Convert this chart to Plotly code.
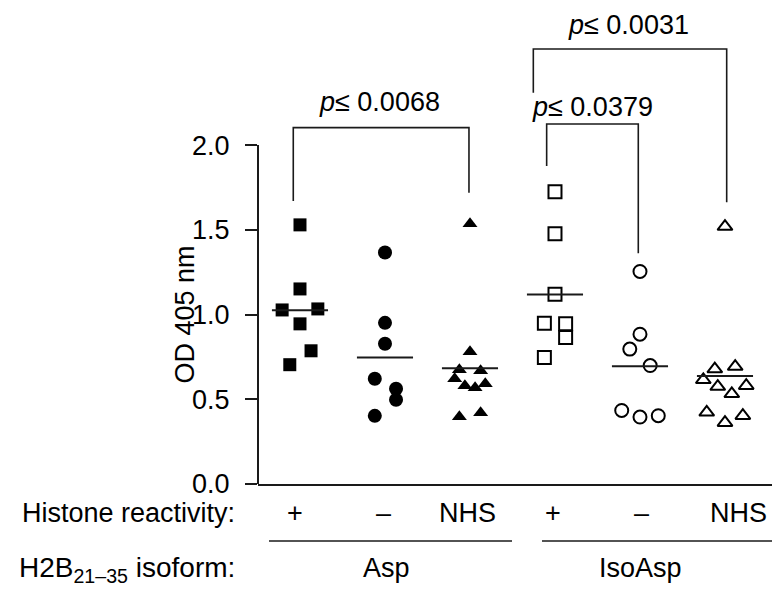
import plotly.graph_objects as go

# ---- data (OD 405 nm) ----
groups = ["Asp +", "Asp –", "Asp NHS", "IsoAsp +", "IsoAsp –", "IsoAsp NHS"]
reactivity_labels = ["+", "–", "NHS", "+", "–", "NHS"]
isoform_labels = ["Asp", "IsoAsp"]

asp_pos = [1.529, 1.151, 1.027, 1.033, 0.945, 0.786, 0.704]
asp_neg = [1.366, 0.951, 0.828, 0.621, 0.562, 0.497, 0.402]
asp_nhs = [1.535, 0.781, 0.674, 0.668, 0.621, 0.580, 0.568, 0.591, 0.397, 0.420]
iso_pos = [1.725, 1.476, 1.120, 0.949, 0.945, 0.864, 0.746]
iso_neg = [1.254, 0.884, 0.796, 0.699, 0.434, 0.395, 0.403]
iso_nhs = [1.519, 0.678, 0.693, 0.615, 0.575, 0.580, 0.532, 0.423, 0.362, 0.403]

# horizontal scatter offsets (in category units) used to avoid overlap
jit_asp_pos = [0, 0, -0.21, 0.21, 0, 0.13, -0.12]
jit_asp_neg = [0, 0, 0, -0.12, 0.13, 0.13, -0.12]
jit_asp_nhs = [0, 0, -0.125, 0.125, -0.18, -0.06, 0.06, 0.18, -0.125, 0.125]
jit_iso_pos = [0, 0, 0, -0.125, 0.125, 0.125, -0.125]
jit_iso_neg = [0, 0, -0.12, 0.12, -0.215, 0, 0.215]
jit_iso_nhs = [0, -0.12, 0.12, -0.255, -0.085, 0.25, 0.08, -0.215, 0, 0.21]

p_labels = ["0.0068", "0.0379", "0.0031"]

values = [asp_pos, asp_neg, asp_nhs, iso_pos, iso_neg, iso_nhs]
jitters = [jit_asp_pos, jit_asp_neg, jit_asp_nhs, jit_iso_pos, jit_iso_neg, jit_iso_nhs]
symbols = ["square", "circle", "triangle-up", "square-open", "circle-open", "triangle-up-open"]
sizes = [13, 14, 13, 13, 13, 13]

W, H = 775, 591
L, R, T, B = 258, 3, 1, 107
YMAX = 2.85
XMIN, XMAX = 0.506, 6.553
FONT = "Liberation Sans, Arial, sans-serif"
FS = 27
INK = "#1a1a1a"

fig = go.Figure()

for i, (vals, jit, sym, sz) in enumerate(zip(values, jitters, symbols, sizes)):
    c = i + 1
    fig.add_trace(go.Scatter(
        x=[c + j for j in jit], y=vals, mode="markers",
        marker=dict(symbol=sym, size=sz, color="black",
                    line=dict(color="black", width=2 if "open" in sym else 0)),
        cliponaxis=False, showlegend=False, name=groups[i]))
    m = sum(vals) / len(vals)
    fig.add_trace(go.Scatter(
        x=[c - 0.33, c + 0.33], y=[m, m], mode="lines",
        line=dict(color=INK, width=2), showlegend=False, hoverinfo="skip"))

# significance brackets: (x_left, x_right, y_top, y_left_end, y_right_end)
brackets = [
    (0.921, 2.988, 2.103, 1.670, 1.718),
    (3.902, 4.980, 2.124, 1.877, 1.362),
    (3.745, 6.020, 2.567, 2.309, 1.663),
]
label_pos = [(1.941, 2.256), (4.441, 2.226), (4.859, 2.708)]
for (xl, xr, yt, yl, yr), (lx, ly), p in zip(brackets, label_pos, p_labels):
    fig.add_shape(type="path", xref="x", yref="y",
                  path=f"M{xl},{yl} L{xl},{yt} L{xr},{yt} L{xr},{yr}",
                  line=dict(color=INK, width=1.6))
    fig.add_annotation(x=lx, y=ly, xref="x", yref="y", text=f"<i>p</i>≤ {p}",
                       showarrow=False, font=dict(size=FS, color="black", family=FONT),
                       xanchor="center", yanchor="middle")

# y axis line from 0 to 2
fig.add_shape(type="line", xref="paper", yref="y", x0=0, x1=0, y0=0, y1=2.0,
              line=dict(color=INK, width=2))

def py2paper(py):
    return (H - B - py) / (H - T - B)

def px2paper(px):
    return (px - L) / (W - L - R)

def px2x(px):
    return XMIN + (px - L) / (W - L - R) * (XMAX - XMIN)

# bottom rows
react_px = [295, 383, 467, 553, 641, 738]
ROW1, ROW2 = 513, 568
fig.add_annotation(x=px2paper(237), y=py2paper(ROW1), xref="paper", yref="paper",
                   text="Histone reactivity:", showarrow=False, xanchor="right", yanchor="middle",
                   font=dict(size=FS, color="black", family=FONT))
for t, px in zip(reactivity_labels, react_px):
    fig.add_annotation(x=px2x(px), y=py2paper(ROW1), xref="x", yref="paper", text=t,
                       showarrow=False, xanchor="center", yanchor="middle",
                       font=dict(size=FS, color="black", family=FONT))
fig.add_annotation(x=px2paper(237), y=py2paper(ROW2 + 1), xref="paper", yref="paper",
                   text="H2B<sub>21–35</sub> isoform:", showarrow=False, xanchor="right",
                   yanchor="middle", font=dict(size=FS + 1, color="black", family=FONT))
for t, px in zip(isoform_labels, [386, 640]):
    fig.add_annotation(x=px2x(px), y=py2paper(ROW2), xref="x", yref="paper", text=t,
                       showarrow=False, xanchor="center", yanchor="middle",
                       font=dict(size=FS, color="black", family=FONT))
for (a, b) in [(269, 512), (542, 772)]:
    fig.add_shape(type="line", xref="paper", yref="paper",
                  x0=px2paper(a), x1=px2paper(b), y0=py2paper(541), y1=py2paper(541),
                  line=dict(color=INK, width=1.6))

# y title
fig.add_annotation(x=px2paper(185), y=1.0, xref="paper", yref="y", text="OD 405 nm",
                   textangle=-90, showarrow=False, xanchor="center", yanchor="middle",
                   font=dict(size=FS, color="black", family=FONT))

fig.update_layout(
    width=W, height=H, margin=dict(l=L, r=R, t=T, b=B),
    plot_bgcolor="white", paper_bgcolor="white",
    font=dict(family=FONT, size=FS, color="black"),
    xaxis=dict(range=[XMIN, XMAX], showgrid=False, zeroline=False, showticklabels=False,
               ticks="", showline=True, linecolor=INK, linewidth=2),
    yaxis=dict(range=[0, YMAX], tickvals=[0, 0.5, 1.0, 1.5, 2.0],
               ticktext=["0.0", "0.5", "1.0", "1.5", "2.0"], ticks="outside", ticklen=12,
               tickwidth=2, tickcolor=INK, showgrid=False, zeroline=False, showline=False,
               ticklabelstandoff=10,
               tickfont=dict(size=FS, color="black", family=FONT)),
)

fig.write_html("out.html", config={"displayModeBar": False},
               post_script="document.body.style.margin='0';")
